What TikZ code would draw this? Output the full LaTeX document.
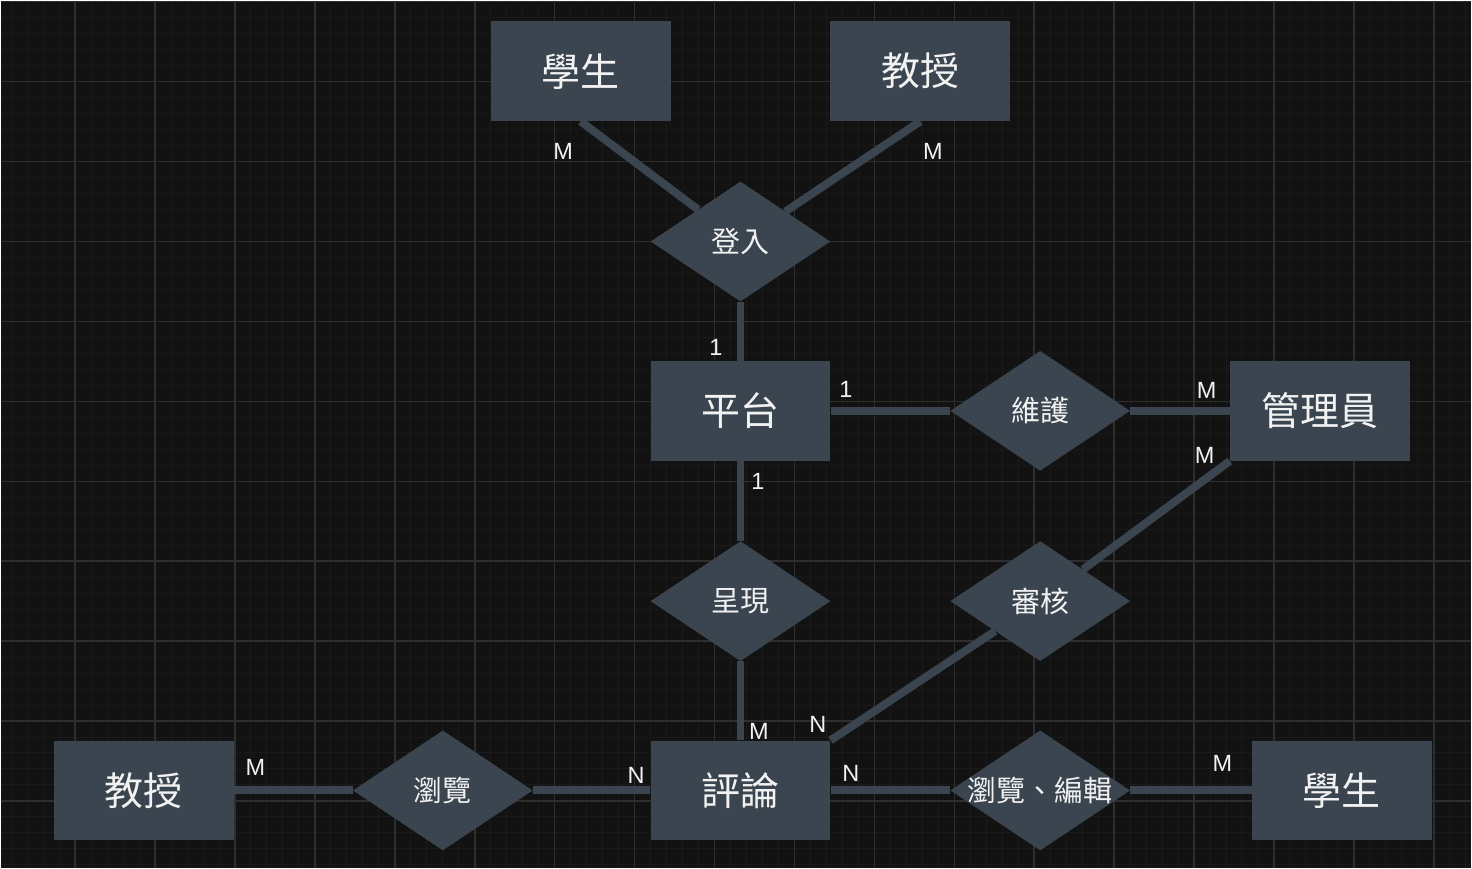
\documentclass[tikz,border=0pt]{standalone}
\usepackage{fontspec}
\setmainfont{Noto Sans CJK TC}
\newfontfamily\cardfont{Liberation Sans}
\usetikzlibrary{shapes.geometric}

\definecolor{canvas}{HTML}{121212}
\definecolor{gridminor}{HTML}{1A1A1A}
\definecolor{gridmajor}{HTML}{2E2E2E}
\definecolor{slate}{HTML}{3A4550}
\definecolor{ink}{HTML}{F2F2F2}

\begin{document}
\begin{tikzpicture}[x=1pt,y=-1pt,
  entity/.style={rectangle, fill=slate, minimum width=180pt, minimum height=100pt,
    inner sep=0pt, text=ink, font=\fontsize{39}{45}\selectfont},
  relation/.style={diamond, fill=slate, minimum width=180pt, minimum height=120pt,
    inner sep=0pt},
  reltext/.style={text=ink, inner sep=0pt, font=\fontsize{29}{34}\selectfont},
  link/.style={draw=slate, line width=8pt},
  card/.style={text=ink, inner sep=0pt, font=\cardfont\fontsize{23.5}{27}\selectfont}]

% canvas and grid
\fill[canvas] (0,0) rectangle (1472,868);
\foreach \x in {10.5,26.5,...,1472} \draw[gridminor, line width=1pt] (\x,0) -- (\x,868);
\foreach \y in {1,17,...,868} \draw[gridminor, line width=1pt] (0,\y) -- (1472,\y);
\foreach \x in {74.5,154.5,...,1472} \draw[gridmajor, line width=1.5pt] (\x,0) -- (\x,868);
\foreach \y in {1,81,...,868} \draw[gridmajor, line width=1.5pt] (0,\y) -- (1472,\y);

% entities
\node[entity] (stuA)   at (580.5,70.5)  {學生};
\node[entity] (profA)  at (920.5,70.5)  {教授};
\node[entity] (plat)   at (740.5,410.5) {平台};
\node[entity] (admin)  at (1320.5,410.5){管理員};
\node[entity] (review) at (740.5,790.5) {評論};
\node[entity] (profB)  at (143,790.5)   {教授};
\node[entity] (stuB)   at (1342.5,790.5){學生};

% relationships
\node[relation, label={[reltext]center:登入}]       (login)  at (740.5,241)    {};
\node[relation, label={[reltext]center:維護}]       (maint)  at (1040.5,410.5) {};
\node[relation, label={[reltext]center:呈現}]       (show)   at (740.5,601)    {};
\node[relation, label={[reltext]center:審核}]       (audit)  at (1040.5,601)   {};
\node[relation, label={[reltext]center:瀏覽}]       (browse) at (442.5,790.5)  {};
\node[relation, label={[reltext]center:瀏覽、編輯}] (edit)   at (1040.5,790.5) {};

% connectors
\draw[link] (stuA.south) -- (login);
\draw[link] (profA.south) -- (login);
\draw[link] (login) -- (plat);
\draw[link] (plat) -- (maint);
\draw[link] (maint) -- (admin);
\draw[link] (plat) -- (show);
\draw[link] (show) -- (review);
\draw[link] (admin.south west) -- (audit);
\draw[link] (audit) -- (review.north east);
\draw[link] (profB) -- (browse);
\draw[link] (browse) -- (review);
\draw[link] (review) -- (edit);
\draw[link] (edit) -- (stuB);

% cardinalities
\node[card] (cStuA)    at (563,151)  {M};
\node[card] (cProfA)   at (933,151)  {M};
\node[card] (cLogin)   at (716,347)  {1};
\node[card] (cPlatR)   at (846,389)  {1};
\node[card] (cAdminL)  at (1207,390) {M};
\node[card] (cAdminB)  at (1205,455) {M};
\node[card] (cPlatB)   at (758,481)  {1};
\node[card] (cRevTop)  at (759,731)  {M};
\node[card] (cRevAud)  at (818,724)  {N};
\node[card] (cRevL)    at (636,775)  {N};
\node[card] (cRevR)    at (851,773)  {N};
\node[card] (cProfB)   at (255,767)  {M};
\node[card] (cStuB)    at (1223,763) {M};
\end{tikzpicture}
\end{document}
